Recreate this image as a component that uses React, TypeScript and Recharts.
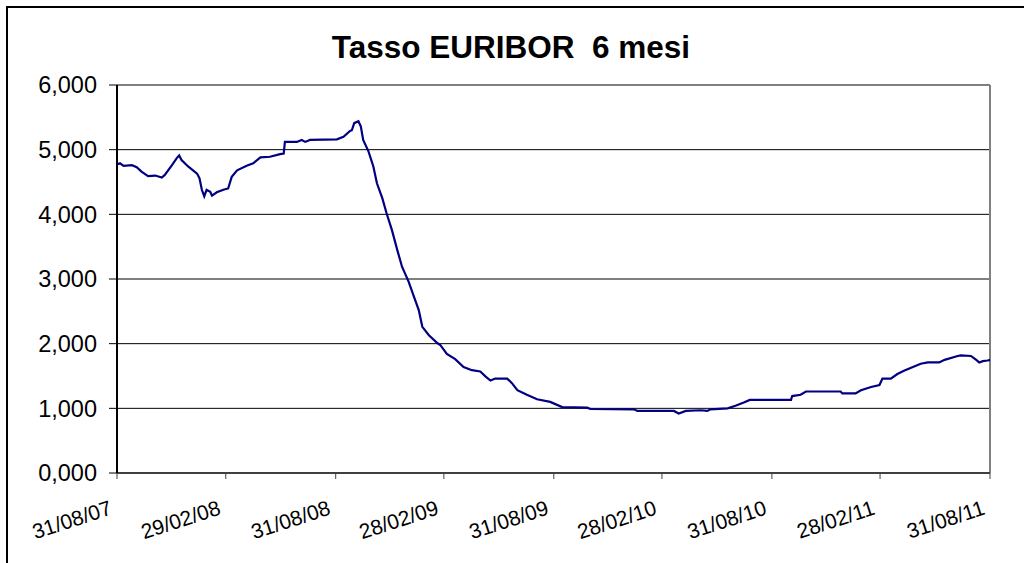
import React from 'react';
import { LineChart, Line, XAxis, YAxis, CartesianGrid, ReferenceLine } from 'recharts';

// Days since 31/08/2007
const days = [
  0, 5, 11, 25, 33, 41, 52, 64, 75, 80, 92, 100, 104, 108, 119, 134, 138, 142, 146, 150,
  156, 159, 167, 178, 186, 192, 201, 217, 228, 240, 256, 273, 279, 281, 301, 309, 315, 323, 368, 379,
  390, 393, 397, 404, 408, 412, 421, 429, 435, 444, 451, 460, 469, 477, 488, 496, 505, 511, 522, 536,
  541, 552, 566, 580, 594, 608, 617, 625, 633, 653, 661, 670, 686, 703, 725, 745, 787, 792, 865, 871,
  932, 940, 952, 977, 988, 993, 1022, 1035, 1049, 1059, 1128, 1130, 1144, 1153, 1211, 1214, 1236, 1245, 1262, 1276,
  1281, 1295, 1306, 1317, 1332, 1345, 1357, 1376, 1385, 1407, 1412, 1429, 1438, 1443, 1449, 1457, 1461,
];

// EURIBOR 6-month rate (%)
const rates = [
  4.77, 4.79, 4.75, 4.76, 4.73, 4.66, 4.59, 4.6, 4.57, 4.61, 4.76, 4.87, 4.91, 4.84, 4.74, 4.63, 4.56, 4.38, 4.28, 4.38,
  4.35, 4.29, 4.34, 4.38, 4.4, 4.58, 4.68, 4.75, 4.79, 4.88, 4.89, 4.93, 4.94, 5.12, 5.12, 5.15, 5.12, 5.15, 5.16, 5.2,
  5.29, 5.3, 5.41, 5.44, 5.36, 5.15, 4.97, 4.74, 4.48, 4.25, 4.02, 3.76, 3.45, 3.19, 2.96, 2.75, 2.52, 2.26, 2.13, 2.01,
  1.98, 1.84, 1.76, 1.64, 1.59, 1.57, 1.49, 1.43, 1.46, 1.46, 1.39, 1.28, 1.21, 1.14, 1.1, 1.02, 1.01, 0.99, 0.985, 0.96,
  0.96, 0.92, 0.96, 0.97, 0.96, 0.985, 1.0, 1.04, 1.09, 1.13, 1.13, 1.19, 1.21, 1.26, 1.26, 1.23, 1.23, 1.28, 1.33, 1.36,
  1.46, 1.46, 1.53, 1.58, 1.64, 1.69, 1.71, 1.71, 1.75, 1.81, 1.82, 1.81, 1.75, 1.71, 1.73, 1.74, 1.75,
];

const tickDays = [0, 182, 366, 547, 731, 912, 1096, 1277, 1461];
const tickLabels = ['31/08/07', '29/02/08', '31/08/08', '28/02/09', '31/08/09', '28/02/10', '31/08/10', '28/02/11', '31/08/11'];
const yTicks = [0, 1, 2, 3, 4, 5, 6];

const title = 'Tasso EURIBOR  6 mesi';

const data = days.map((d, i) => ({ day: d, rate: rates[i] }));

const FONT = '"Liberation Sans", Arial, sans-serif';

const XTick = (props: any) => {
  const { x, y, payload } = props;
  const idx = tickDays.indexOf(payload.value);
  const label = idx >= 0 ? tickLabels[idx] : '';
  const tx = x - 4;
  const ty = y + 33;
  return (
    <text
      x={tx}
      y={ty}
      textAnchor="end"
      transform={`rotate(-18, ${tx}, ${ty})`}
      fontFamily={FONT}
      fontSize={21}
      fill="#000"
    >
      {label}
    </text>
  );
};

export default function App() {
  return (
    <div style={{ position: 'fixed', left: 0, top: 0, width: 1024, height: 563, overflow: 'hidden', background: '#fff' }}>
      <div style={{ position: 'absolute', left: 0, top: 0 }}>
        <LineChart width={1024} height={563} data={data} margin={{ top: 85, right: 34, bottom: 0, left: 0 }}>
          <CartesianGrid horizontal={true} vertical={false} stroke="#000" strokeWidth={1} />
          <XAxis
            dataKey="day"
            type="number"
            domain={[0, 1461]}
            ticks={tickDays}
            height={90}
            interval={0}
            tick={<XTick />}
            tickSize={6}
            axisLine={{ stroke: '#404040', strokeWidth: 2 }}
            tickLine={{ stroke: '#404040', strokeWidth: 1 }}
          />
          <YAxis
            type="number"
            domain={[0, 6]}
            ticks={yTicks}
            width={117}
            interval={0}
            tickFormatter={(v: number) => v.toFixed(3).replace('.', ',')}
            tick={{ fontFamily: FONT, fontSize: 23.5, fill: '#000' }}
            tickSize={8}
            tickMargin={12}
            axisLine={{ stroke: '#000', strokeWidth: 2 }}
            tickLine={{ stroke: '#000', strokeWidth: 1 }}
          />
          <ReferenceLine x={1461} stroke="#808080" strokeWidth={2} />
          <Line
            type="linear"
            dataKey="rate"
            stroke="#000080"
            strokeWidth={2.2}
            dot={false}
            isAnimationActive={false}
          />
        </LineChart>
      </div>
      <svg width={1024} height={563} style={{ position: 'absolute', left: 0, top: 0, pointerEvents: 'none' }}>
        <rect x={7} y={7} width={1200} height={800} fill="none" stroke="#000" strokeWidth={2} />
        <text
          x={511}
          y={58}
          textAnchor="middle"
          fontFamily={FONT}
          fontSize={31.5}
          fontWeight="bold"
          fill="#000"
          style={{ whiteSpace: 'pre' }}
        >
          {title}
        </text>
      </svg>
    </div>
  );
}
